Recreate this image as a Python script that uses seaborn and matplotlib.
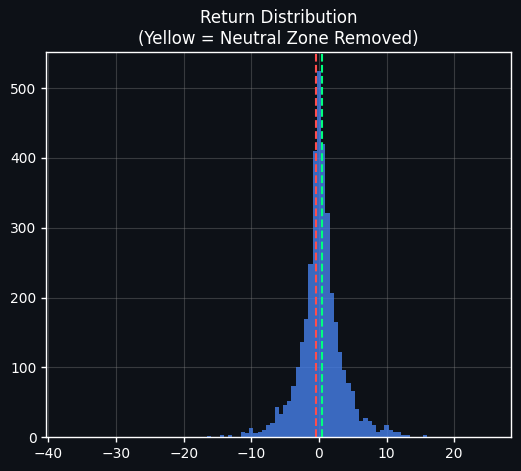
import numpy as np
import pandas as pd
import matplotlib
matplotlib.use("Agg")
import matplotlib.pyplot as plt
import seaborn as sns

# ---- data ----
bin_start = -37.1875
bin_stop = 25.3125
n_bins = 100
counts = [
    1, 0, 0, 0, 0, 0, 0, 0, 0, 0,          # 0-9
    0, 0, 0, 0, 0, 0, 0, 0, 0, 0,          # 10-19
    0, 0, 0, 0, 0, 0, 0, 0, 0, 0,          # 20-29
    0, 0, 0, 2, 0, 0, 3, 0, 4, 1,          # 30-39
    0, 7, 6, 14, 6, 7, 10, 17, 20, 44,     # 40-49
    34, 46, 52, 73, 101, 136, 170, 248, 410, 525,  # 50-59
    420, 321, 206, 165, 122, 97, 78, 67, 41, 24,   # 60-69
    27, 24, 17, 7, 11, 17, 10, 7, 7, 4,    # 70-79
    3, 0, 0, 0, 3, 0, 0, 0, 0, 0,          # 80-89
    0, 0, 0, 0, 0, 0, 0, 0, 0, 1,          # 90-99
]
lower_threshold = -0.45
upper_threshold = 0.45
title = "Return Distribution\n(Yellow = Neutral Zone Removed)"

binwidth = (bin_stop - bin_start) / n_bins
centers = bin_start + binwidth * (np.arange(n_bins) + 0.5)
df = pd.DataFrame({"ret": centers, "count": counts})

BG = "#0d1117"
sns.set_theme(style="dark")
plt.rcParams.update({
    "figure.facecolor": BG,
    "axes.facecolor": BG,
    "axes.edgecolor": "white",
    "axes.labelcolor": "white",
    "xtick.color": "white",
    "ytick.color": "white",
    "text.color": "white",
    "xtick.bottom": True,
    "ytick.left": True,
})
plt.rcParams["font.family"] = ["DejaVu Sans"]

fig, ax = plt.subplots(figsize=(5.21, 4.71), dpi=100)
fig.subplots_adjust(left=46.3 / 521, right=511.3 / 521,
                    top=1 - 52.3 / 471, bottom=1 - 437.3 / 471)

sns.histplot(data=df, x="ret", weights="count",
             binwidth=binwidth, binrange=(bin_start, bin_stop),
             color="#4680ea", alpha=0.8, linewidth=0, ax=ax)

ax.axvline(lower_threshold, color="#ff4d4d", linestyle="--", linewidth=1.5)
ax.axvline(upper_threshold, color="#00ff7f", linestyle="--", linewidth=1.5)

ax.grid(True, color="#888888", alpha=0.35, linewidth=0.8)
ax.set_axisbelow(True)
for s in ax.spines.values():
    s.set_color("white")
    s.set_linewidth(1.0)
ax.tick_params(axis="both", colors="white", labelsize=10, length=3.5, width=1)

ax.set_xlabel("")
ax.set_ylabel("")
ax.set_title(title, color="white", fontsize=12)
ax.set_xlim(bin_start - 0.05 * (bin_stop - bin_start), bin_stop + 0.05 * (bin_stop - bin_start))
ax.set_ylim(0, max(counts) * 1.05)
ax.set_yticks([0, 100, 200, 300, 400, 500])
ax.set_xticks([-40, -30, -20, -10, 0, 10, 20])

fig.savefig("out.png", dpi=100, facecolor=BG)
